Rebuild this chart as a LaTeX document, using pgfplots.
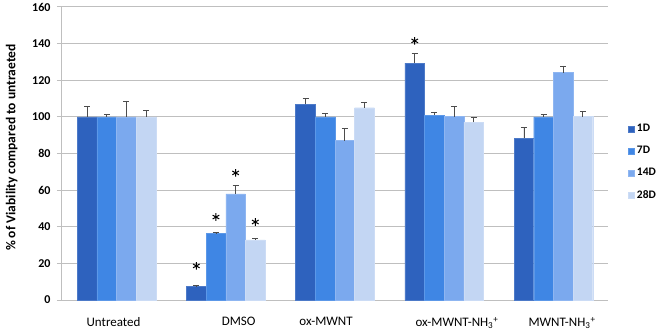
\documentclass[border=0pt]{standalone}
\usepackage{fontspec}
\setmainfont{Carlito}
\usepackage{pgfplots}
\usepackage{pgfplotstable}
\pgfplotsset{compat=1.18}
\definecolor{dOne}{HTML}{2E62BE}
\definecolor{dSeven}{HTML}{3F86E4}
\definecolor{dFourteen}{HTML}{7BA9EE}
\definecolor{dTwentyEight}{HTML}{C3D6F3}
\definecolor{gridgray}{HTML}{BFBFBF}

% x: bar position (category index + offset in its group), y: mean viability, e: error (plus only)
\pgfplotstableread{
x y e
-0.27 100 5.6
0.73 7.4 0.4
1.73 107 3.0
2.73 129.3 5.4
3.73 88.3 5.8
}\tOne
\pgfplotstableread{
x y e
-0.09 100 1.2
0.91 36.3 0.6
1.91 100 1.7
2.91 100.9 1.8
3.91 100 1.2
}\tSeven
\pgfplotstableread{
x y e
0.09 100 8.7
1.09 57.9 4.5
2.09 87 6.7
3.09 100.1 5.5
4.09 124.2 3.6
}\tFourteen
\pgfplotstableread{
x y e
0.27 100 3.4
1.27 32.8 0.9
2.27 105 3.0
3.27 97.2 2.6
4.27 100.1 3.1
}\tTwentyEight

\begin{document}
\begin{tikzpicture}
\useasboundingbox (-62pt,-32pt) rectangle (601pt,300pt);
\begin{axis}[
  at={(0pt,0pt)}, anchor=south west,
  scale only axis, width=546pt, height=293pt,
  xmin=-0.5, xmax=4.5, ymin=0, ymax=160,
  axis lines=left, axis line style={-, gridgray, line width=1pt},
  ytick={0,20,...,160},
  ymajorgrids, grid style={gridgray, line width=1pt},
  tick align=outside, major tick length=5pt,
  tick style={gridgray, line width=1pt},
  xtick={-0.028,1.118,1.918,3.117,4.079},
  xticklabels={Untreated, DMSO, ox-MWNT, ox-MWNT-NH\textsubscript{3}\textsuperscript{+}, MWNT-NH\textsubscript{3}\textsuperscript{+}},
  major x tick style={draw=none},
  extra x ticks={0.5,1.5,2.5,3.5,4.5},
  extra x tick labels={},
  extra x tick style={grid=none, tick style={gridgray, line width=1pt}},
  xticklabel style={font=\fontsize{13}{14}\selectfont, yshift=-9pt},
  /pgf/number format/assume math mode=true,
  yticklabel style={font=\fontsize{12}{13}\selectfont\bfseries, xshift=-3pt},
  ylabel={\% of Viability compared to untraeted},
  ylabel style={font=\fontsize{13.5}{14}\selectfont\bfseries, at={(axis description cs:-0.092,0.52)}, anchor=center},
  legend style={at={(1.03,0.471)}, anchor=west, draw=none, fill=none,
    font=\fontsize{11.5}{12}\selectfont\bfseries, row sep=9pt,
    /tikz/every odd column/.append style={column sep=1pt}},
  legend cell align=left,
  legend image code/.code={\path[#1] (0pt,-3pt) rectangle (6pt,3pt);},
  error bars/y dir=plus, error bars/y explicit,
  error bars/error bar style={black!70, line width=0.8pt},
  error bars/error mark options={rotate=90, mark size=3pt, black!70, line width=0.8pt},
]
\addplot[ybar, bar width=0.18, bar shift=0pt, fill=dOne, draw=dOne!85!white]
  table[x=x, y=y, y error=e]{\tOne};
\addplot[ybar, bar width=0.18, bar shift=0pt, fill=dSeven, draw=dSeven!85!white]
  table[x=x, y=y, y error=e]{\tSeven};
\addplot[ybar, bar width=0.18, bar shift=0pt, fill=dFourteen, draw=dFourteen!85!white]
  table[x=x, y=y, y error=e]{\tFourteen};
\addplot[ybar, bar width=0.18, bar shift=0pt, fill=dTwentyEight, draw=dTwentyEight!85!white]
  table[x=x, y=y, y error=e]{\tTwentyEight};
\legend{1D,7D,14D,28D}
% significance stars
\addplot[forget plot, only marks, mark=asterisk, mark size=3.8pt, black, line width=1pt]
  coordinates {(0.73,18.6) (0.91,45.3) (1.09,69.4) (1.27,42.6) (2.73,141.5)};
\end{axis}
\end{tikzpicture}
\end{document}
